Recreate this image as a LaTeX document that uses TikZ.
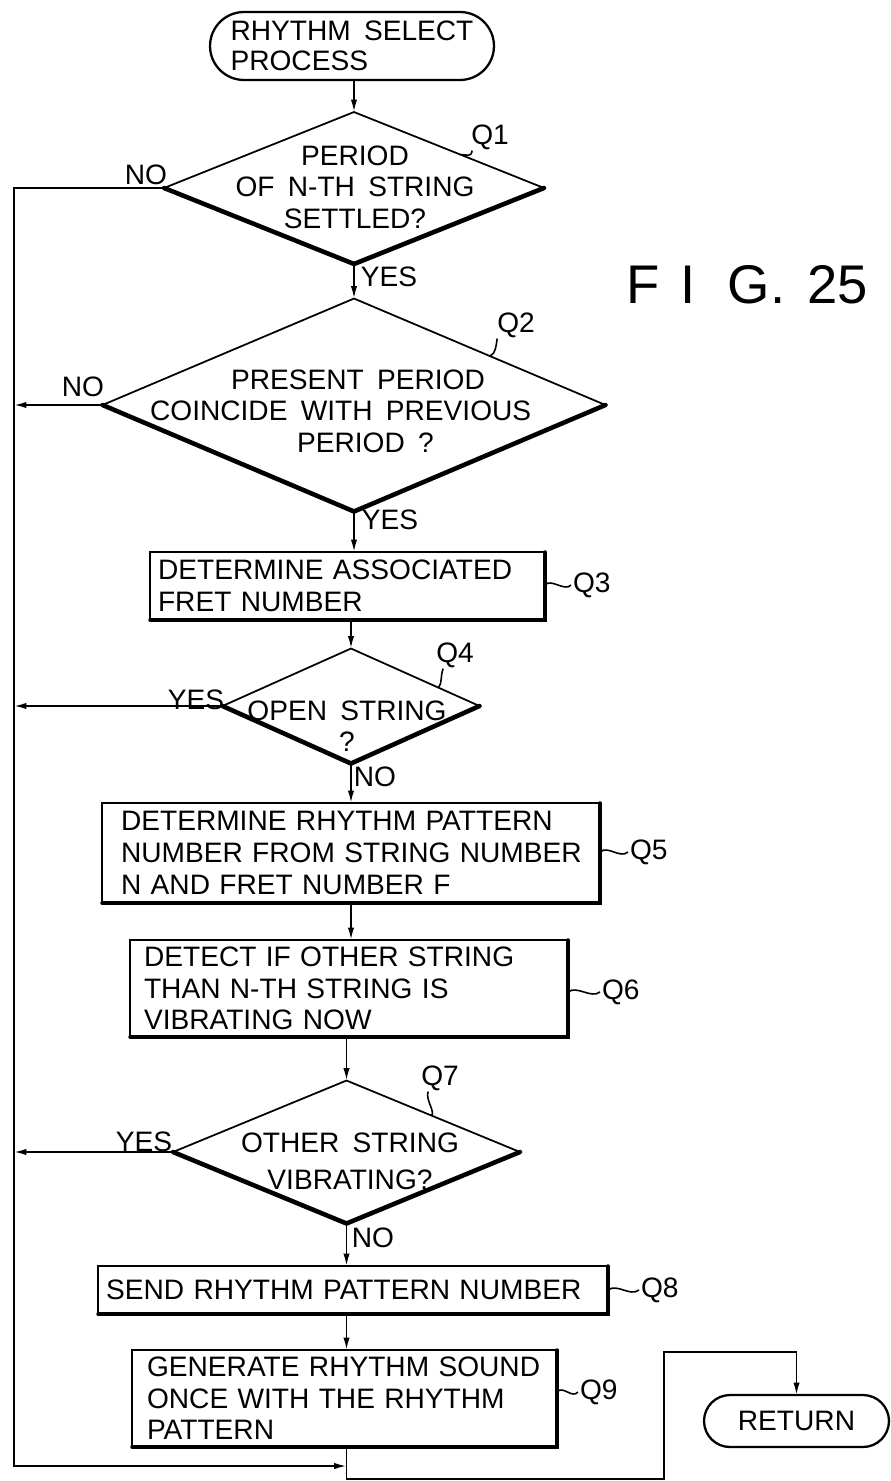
\documentclass[tikz,border=0pt]{standalone}
\usepackage{fontspec}
\setmainfont{Liberation Sans}[WordSpace=1.7]
\usetikzlibrary{shapes.geometric,arrows.meta,calc}
\begin{document}
\begin{tikzpicture}[x=0.02cm,y=-0.02cm,
  every node/.style={font=\fontsize{16}{18}\selectfont},
  line/.style={line width=1pt},
  arr/.style={line width=1pt,-{Latex[length=7pt,width=3.6pt]}},
  sq/.style={line width=0.9pt},
  term/.style={draw,line width=1.3pt,inner sep=0pt,outer sep=0pt},
  dia/.style={draw,diamond,line width=1pt,inner sep=0pt,outer sep=0pt},
  box/.style={draw,line width=1.3pt,align=left,inner ysep=0pt,outer sep=0pt},
  txt/.style={inner sep=1pt},
  qlab/.style={inner sep=1pt}]
\useasboundingbox (0,0) rectangle (891,1481);

% start terminal
\node[term,rounded corners=0.68cm,minimum width=5.68cm,minimum height=1.36cm,align=left,
  font=\fontsize{16}{17}\selectfont] (start) at (352,46) {RHYTHM SELECT\\PROCESS};

% Q1
\node[dia,minimum width=7.6cm,minimum height=3.04cm] (q1) at (354,188) {};
\node[txt,align=center] (t1) at (355,187) {PERIOD\\OF N-TH STRING\\SETTLED?};
\node[qlab] (l1) at (490,137) {Q1};
\node[txt] (n1) at (146,175) {NO};
\node[txt] (y1) at (389,277) {YES};

% Q2
\node[dia,minimum width=10.06cm,minimum height=4.26cm] (q2) at (354,405) {};
\node[txt,align=left,anchor=west] (t2) at (148,411) {\hspace*{1.62cm}PRESENT PERIOD\\COINCIDE WITH PREVIOUS\\\hspace*{2.94cm}PERIOD ?};
\node[qlab] (l2) at (516,325) {Q2};
\node[txt] (n2) at (83,387) {NO};
\node[txt] (y2) at (390,520) {YES};

% Q3
\node[box,minimum height=1.36cm,text width=7.58cm,inner xsep=0.16cm] (q3) at (347.5,586)
  {\mbox{DETERMINE ASSOCIATED}\\\mbox{FRET NUMBER}};
\node[qlab,anchor=west] (l3) at (571,585) {Q3};

% Q4
\node[dia,minimum width=5.14cm,minimum height=2.3cm] (q4) at (351,706) {};
\node[txt,align=center,font=\fontsize{16}{18}\selectfont] (t4) at (347,726) {OPEN STRING\\?};
\node[qlab] (l4) at (455,655) {Q4};
\node[txt] (y4) at (196,700) {YES};
\node[txt] (n4) at (375,777) {NO};

% Q5
\node[box,minimum height=2.0cm,text width=9.2cm,inner xsep=0.38cm] (q5) at (351,853)
  {\mbox{DETERMINE RHYTHM PATTERN}\\\mbox{NUMBER FROM STRING NUMBER}\\\mbox{N AND FRET NUMBER F}};
\node[qlab,anchor=west] (l5) at (628,852) {Q5};

% Q6
\node[box,minimum height=1.94cm,text width=8.2cm,inner xsep=0.28cm] (q6) at (349,988.5)
  {\mbox{DETECT IF OTHER STRING}\\\mbox{THAN N-TH STRING IS}\\\mbox{VIBRATING NOW}};
\node[qlab,anchor=west] (l6) at (600,992) {Q6};

% Q7
\node[dia,minimum width=6.94cm,minimum height=2.86cm] (q7) at (346.5,1152) {};
\node[txt,align=center,font=\fontsize{16}{21}\selectfont] (t7) at (350,1161) {OTHER STRING\\VIBRATING?};
\node[qlab] (l7) at (440,1078) {Q7};
\node[txt] (y7) at (144,1142) {YES};
\node[txt] (n7) at (373,1238) {NO};

% Q8
\node[box,minimum height=0.96cm,text width=9.88cm,inner xsep=0.16cm] (q8) at (353,1290)
  {\mbox{SEND RHYTHM PATTERN NUMBER}};
\node[qlab,anchor=west] (l8) at (639,1290) {Q8};

% Q9
\node[box,minimum height=1.94cm,text width=7.9cm,inner xsep=0.3cm] (q9) at (344.5,1398.5)
  {\mbox{GENERATE RHYTHM SOUND}\\\mbox{ONCE WITH THE RHYTHM}\\\mbox{PATTERN}};
\node[qlab,anchor=west] (l9) at (578,1392) {Q9};

% RETURN
\node[term,rounded corners=0.52cm,minimum width=3.7cm,minimum height=1.04cm] (ret) at (796.5,1421) {RETURN};

% figure title
\node[font=\fontsize{31}{36}\selectfont,anchor=base west,inner sep=0pt] (fig) at (626,303)
  {F\hspace{0.42cm}I\hspace{0.64cm}G.\hspace{0.44cm}25};

% thick lower edges of decisions
\foreach \n in {q1,q2,q4,q7}
  \draw[line width=2.6pt,line join=round,line cap=round] (\n.west) -- (\n.south) -- (\n.east);
% thick bottom/right edges of boxes
\foreach \n in {q3,q5,q6,q8,q9}
  \draw[line width=2pt,line cap=round] (\n.south west) -- (\n.south east) -- (\n.north east);

% main flow
\draw[arr] (q1.north |- start.south) -- (q1.north);
\draw[arr] (q1.south) -- (q2.north);
\draw[arr] (q2.south) -- (q2.south |- q3.north);
\draw[arr] (q4.north |- q3.south) -- (q4.north);
\draw[arr] (q4.south) -- (q4.south |- q5.north);
\draw[arr] (q5.south -| q4.south) -- (q6.north -| q4.south);
\draw[arr] (q6.south -| q7.north) -- (q7.north);
\draw[arr] (q7.south) -- (q7.south |- q8.north);
\draw[arr] (q8.south -| q7.south) -- (q9.north -| q7.south);

% left return line
\coordinate (lb) at (14,1466);
\draw[arr] (q1.west) -- (q1.west -| lb) -- (lb) -- (lb -| q7.south);
\draw[arr] (q2.west) -- (q2.west -| lb);
\draw[arr] (q4.west) -- (q4.west -| lb);
\draw[arr] (q7.west) -- (q7.west -| lb);

% to RETURN
\coordinate (rb) at (664,1479);
\coordinate (rt) at (664,1352);
\draw[arr] (q9.south -| q7.south) |- (rb) -- (rt) -| (ret.north);

% reference squiggles
\draw[sq] ($(q1.north)!0.56!(q1.east)$) .. controls +(7,0) and +(-1,7) .. ($(l1.south west)+(3,-1)$);
\draw[sq] ($(q2.north)!0.54!(q2.east)$) .. controls +(6,-2) and +(-1,7) .. ($(l2.south west)+(2,-1)$);
\draw[sq] ($(q4.north)!0.68!(q4.east)$) .. controls +(4,-4) and +(-3,8) .. ($(l4.south west)+(9,-1)$);
\draw[sq] ($(q7.north)!0.49!(q7.east)$) .. controls +(4,-4) and +(-3,8) .. ($(l7.south west)+(9,-1)$);
\draw[sq] (q3.east |- l3.west) .. controls +(6,-7) and +(-6,7) .. (l3.west);
\draw[sq] (q5.east |- l5.west) .. controls +(8,-7) and +(-8,7) .. (l5.west);
\draw[sq] (q6.east |- l6.west) .. controls +(9,-7) and +(-9,7) .. (l6.west);
\draw[sq] (q8.east |- l8.west) .. controls +(9,-7) and +(-9,7) .. (l8.west);
\draw[sq] (q9.east |- l9.west) .. controls +(6,-7) and +(-6,7) .. (l9.west);
\end{tikzpicture}
\end{document}
